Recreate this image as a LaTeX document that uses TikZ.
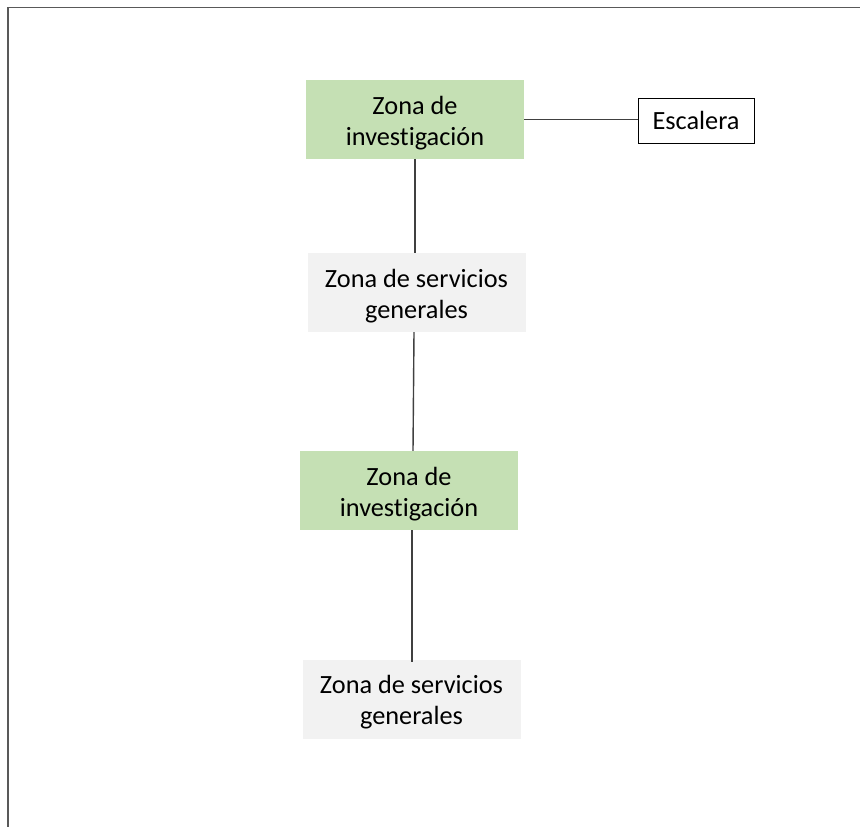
\documentclass[tikz,border=0pt]{standalone}
\usepackage{fontspec}
\setmainfont{Carlito}[Ligatures=NoCommon]
\usepackage{xcolor}
\usepackage{tikz}

\definecolor{verde}{HTML}{C5E0B4}
\definecolor{grisclaro}{HTML}{F2F2F2}
\definecolor{linea}{HTML}{404040}

\newcommand{\bajar}{\rule{0pt}{25pt}}

\begin{document}
\begin{tikzpicture}[x=1pt,y=-1pt,
    caja/.style={minimum width=218pt, minimum height=79pt, inner sep=0pt, align=center,
                 font=\fontsize{26.3}{31}\selectfont},
    investigacion/.style={caja, fill=verde},
    servicios/.style={caja, fill=grisclaro},
    enlace/.style={draw=linea, line width=1.4pt}]

                \useasboundingbox (0,0) rectangle (860,827);
                % Marco
                \draw[line width=1.6pt, black!65] (8,827) -- (8,7.5) -- (860,7.5);

                % Cajas
                \node[investigacion] (inv1) at (415,119.5) {\bajar Zona de\\investigación};
                \node[draw, line width=1pt, minimum width=116pt, minimum height=45pt, inner sep=0pt,
                      font=\fontsize{26.3}{31}\selectfont] (esc) at (696,120.5) {Escalera};
                \node[servicios] (serv1) at (416.5,292.5) {\bajar Zona de servicios\\generales};
                \node[investigacion] (inv2) at (409,490.5) {\bajar Zona de\\investigación};
                \node[servicios] (serv2) at (411.5,699) {\bajar Zona de servicios\\generales};

                % Lineas
                \draw[enlace] (inv1.east) -- (inv1.east -| esc.west);
                \draw[enlace] (inv1.south) -- (inv1.south |- serv1.north);
                \draw[enlace] ([xshift=-2.5pt]serv1.south) -- ([xshift=4pt]inv2.north);
                \draw[enlace] ([xshift=3pt]inv2.south) -- ([xshift=0.5pt,yshift=-3pt]serv2.north);
            \end{tikzpicture}
\end{document}
